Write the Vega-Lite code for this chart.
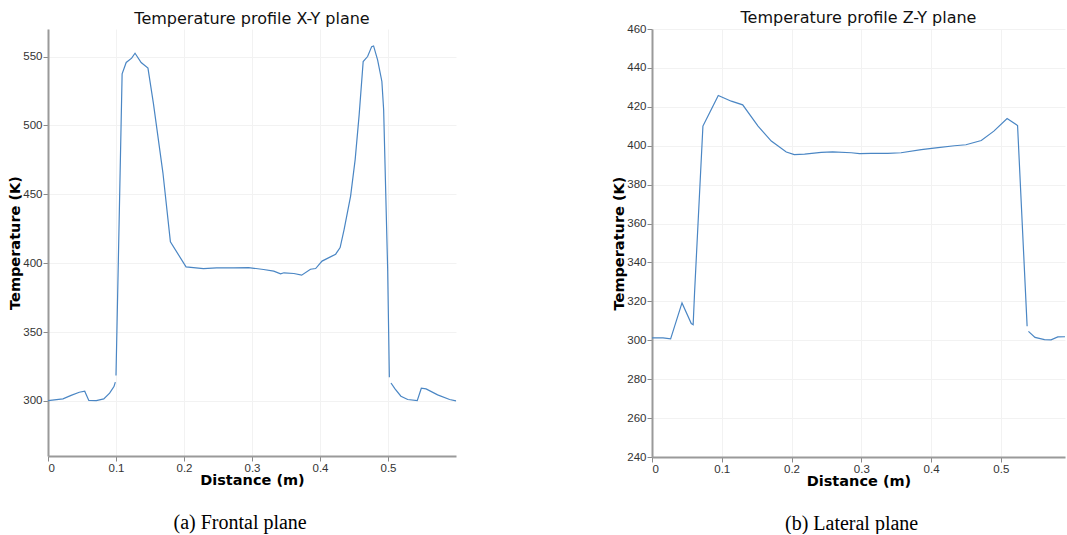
{
  "$schema": "https://vega.github.io/schema/vega-lite/v6.json",
  "padding": {"left": 7, "top": 10, "right": 0, "bottom": 0},
  "datasets": {
    "xy": [
      {"d": 0, "T": 300.2, "seg": "A"},
      {"d": 0.022, "T": 301.5, "seg": "A"},
      {"d": 0.034, "T": 304, "seg": "A"},
      {"d": 0.046, "T": 306.3, "seg": "A"},
      {"d": 0.054, "T": 307, "seg": "A"},
      {"d": 0.06, "T": 300.3, "seg": "A"},
      {"d": 0.071, "T": 300.2, "seg": "A"},
      {"d": 0.082, "T": 301.5, "seg": "A"},
      {"d": 0.0906, "T": 305.6, "seg": "A"},
      {"d": 0.097, "T": 310.4, "seg": "A"},
      {"d": 0.099, "T": 313.6, "seg": "A"},
      {"d": 0.1, "T": 318.4, "seg": "B"},
      {"d": 0.1035, "T": 403, "seg": "B"},
      {"d": 0.109, "T": 537.5, "seg": "B"},
      {"d": 0.115, "T": 545.7, "seg": "B"},
      {"d": 0.123, "T": 548.8, "seg": "B"},
      {"d": 0.128, "T": 552.4, "seg": "B"},
      {"d": 0.137, "T": 545.7, "seg": "B"},
      {"d": 0.147, "T": 541.6, "seg": "B"},
      {"d": 0.155, "T": 516, "seg": "B"},
      {"d": 0.169, "T": 465.6, "seg": "B"},
      {"d": 0.18, "T": 415.5, "seg": "B"},
      {"d": 0.203, "T": 397.3, "seg": "B"},
      {"d": 0.2286, "T": 396.1, "seg": "B"},
      {"d": 0.248, "T": 396.6, "seg": "B"},
      {"d": 0.273, "T": 396.6, "seg": "B"},
      {"d": 0.295, "T": 396.8, "seg": "B"},
      {"d": 0.317, "T": 395.4, "seg": "B"},
      {"d": 0.332, "T": 394.2, "seg": "B"},
      {"d": 0.342, "T": 392.2, "seg": "B"},
      {"d": 0.347, "T": 393, "seg": "B"},
      {"d": 0.3616, "T": 392.5, "seg": "B"},
      {"d": 0.373, "T": 391.3, "seg": "B"},
      {"d": 0.386, "T": 395.6, "seg": "B"},
      {"d": 0.3936, "T": 396.1, "seg": "B"},
      {"d": 0.403, "T": 401.5, "seg": "B"},
      {"d": 0.423, "T": 406.5, "seg": "B"},
      {"d": 0.4296, "T": 411.3, "seg": "B"},
      {"d": 0.4355, "T": 424.6, "seg": "B"},
      {"d": 0.445, "T": 448.7, "seg": "B"},
      {"d": 0.4517, "T": 475.2, "seg": "B"},
      {"d": 0.4576, "T": 507.8, "seg": "B"},
      {"d": 0.4635, "T": 546.4, "seg": "B"},
      {"d": 0.47, "T": 550, "seg": "B"},
      {"d": 0.476, "T": 557.2, "seg": "B"},
      {"d": 0.4788, "T": 557.7, "seg": "B"},
      {"d": 0.4847, "T": 547.6, "seg": "B"},
      {"d": 0.491, "T": 531.9, "seg": "B"},
      {"d": 0.4936, "T": 511.4, "seg": "B"},
      {"d": 0.4995, "T": 395.7, "seg": "B"},
      {"d": 0.502, "T": 317.2, "seg": "B"},
      {"d": 0.5044, "T": 313, "seg": "C"},
      {"d": 0.5103, "T": 308.7, "seg": "C"},
      {"d": 0.519, "T": 303.4, "seg": "C"},
      {"d": 0.529, "T": 301, "seg": "C"},
      {"d": 0.543, "T": 300.2, "seg": "C"},
      {"d": 0.549, "T": 309.2, "seg": "C"},
      {"d": 0.556, "T": 308.7, "seg": "C"},
      {"d": 0.573, "T": 304.4, "seg": "C"},
      {"d": 0.5906, "T": 301, "seg": "C"},
      {"d": 0.6, "T": 300, "seg": "C"}
    ],
    "zy": [
      {"d": 0, "T": 301.2, "seg": "A"},
      {"d": 0.0158, "T": 301.2, "seg": "A"},
      {"d": 0.0267, "T": 300.7, "seg": "A"},
      {"d": 0.043, "T": 319.2, "seg": "A"},
      {"d": 0.0563, "T": 308.6, "seg": "A"},
      {"d": 0.059, "T": 308, "seg": "A"},
      {"d": 0.061, "T": 324.4, "seg": "A"},
      {"d": 0.073, "T": 410.1, "seg": "A"},
      {"d": 0.0826, "T": 416.9, "seg": "A"},
      {"d": 0.095, "T": 425.8, "seg": "A"},
      {"d": 0.1137, "T": 422.9, "seg": "A"},
      {"d": 0.13, "T": 421, "seg": "A"},
      {"d": 0.152, "T": 410.1, "seg": "A"},
      {"d": 0.171, "T": 402.4, "seg": "A"},
      {"d": 0.1925, "T": 396.8, "seg": "A"},
      {"d": 0.204, "T": 395.4, "seg": "A"},
      {"d": 0.2187, "T": 395.7, "seg": "A"},
      {"d": 0.2426, "T": 396.6, "seg": "A"},
      {"d": 0.259, "T": 396.8, "seg": "A"},
      {"d": 0.2856, "T": 396.4, "seg": "A"},
      {"d": 0.2975, "T": 395.9, "seg": "A"},
      {"d": 0.314, "T": 396.1, "seg": "A"},
      {"d": 0.338, "T": 396.1, "seg": "A"},
      {"d": 0.357, "T": 396.4, "seg": "A"},
      {"d": 0.386, "T": 398, "seg": "A"},
      {"d": 0.41, "T": 399, "seg": "A"},
      {"d": 0.4336, "T": 400, "seg": "A"},
      {"d": 0.45, "T": 400.5, "seg": "A"},
      {"d": 0.472, "T": 402.7, "seg": "A"},
      {"d": 0.49, "T": 407.5, "seg": "A"},
      {"d": 0.509, "T": 414, "seg": "A"},
      {"d": 0.524, "T": 410.4, "seg": "A"},
      {"d": 0.5377, "T": 307.2, "seg": "A"},
      {"d": 0.5396, "T": 304.6, "seg": "B"},
      {"d": 0.549, "T": 301.5, "seg": "B"},
      {"d": 0.5626, "T": 300.3, "seg": "B"},
      {"d": 0.572, "T": 300.2, "seg": "B"},
      {"d": 0.5817, "T": 301.7, "seg": "B"},
      {"d": 0.592, "T": 301.8, "seg": "B"}
    ]
  },
  "config": {
    "font": "DejaVu Sans",
    "view": {"stroke": null},
    "axis": {
      "domainColor": "#9a9a9a",
      "domainWidth": 2,
      "tickColor": "#8a8a8a",
      "tickSize": 5,
      "labelColor": "#333333",
      "labelFont": "Liberation Sans",
      "labelFontSize": 11.5,
      "labelPadding": 1,
      "titleFont": "DejaVu Sans",
      "titleFontSize": 14.5,
      "titleFontWeight": "bold",
      "titleColor": "#000000",
      "gridColor": "#f2f2f2",
      "gridWidth": 1
    },
    "axisX": {"titlePadding": 0},
    "axisY": {"titlePadding": 0}
  },
  "spacing": 152,
  "hconcat": [
    {
      "title": {"text": "(a) Frontal plane", "orient": "bottom", "font": "Liberation Serif", "fontSize": 20, "fontWeight": "normal", "color": "#000000", "anchor": "middle", "offset": 26, "dx": 7},
      "vconcat": [
        {
          "width": 408,
          "height": 427,
          "title": {"text": "Temperature profile X-Y plane", "font": "DejaVu Sans", "fontSize": 16, "fontWeight": "normal", "color": "#111111", "frame": "group", "anchor": "middle", "offset": 2.5},
          "data": {"name": "xy"},
          "mark": {"type": "line", "color": "#4a86c4", "strokeWidth": 1.2},
          "encoding": {
            "x": {"field": "d", "type": "quantitative", "scale": {"domain": [0, 0.6], "nice": false, "zero": false}, "axis": {"title": "Distance (m)", "values": [0, 0.1, 0.2, 0.3, 0.4, 0.5], "format": "~g"}},
            "y": {"field": "T", "type": "quantitative", "scale": {"domain": [260, 570], "nice": false, "zero": false}, "axis": {"title": "Temperature (K)", "values": [300, 350, 400, 450, 500, 550]}},
            "detail": {"field": "seg"}
          }
        }
      ]
    },
    {
      "title": {"text": "(b) Lateral plane", "orient": "bottom", "font": "Liberation Serif", "fontSize": 20, "fontWeight": "normal", "color": "#000000", "anchor": "middle", "offset": 26, "dx": 12},
      "vconcat": [
        {
          "width": 413,
          "height": 428,
          "title": {"text": "Temperature profile Z-Y plane", "font": "DejaVu Sans", "fontSize": 16, "fontWeight": "normal", "color": "#111111", "frame": "group", "anchor": "middle", "offset": -3},
          "data": {"name": "zy"},
          "mark": {"type": "line", "color": "#4a86c4", "strokeWidth": 1.2},
          "encoding": {
            "x": {"field": "d", "type": "quantitative", "scale": {"domain": [0, 0.592], "nice": false, "zero": false}, "axis": {"title": "Distance (m)", "values": [0, 0.1, 0.2, 0.3, 0.4, 0.5], "format": "~g"}},
            "y": {"field": "T", "type": "quantitative", "scale": {"domain": [240, 460], "nice": false, "zero": false}, "axis": {"title": "Temperature (K)", "values": [240, 260, 280, 300, 320, 340, 360, 380, 400, 420, 440, 460]}},
            "detail": {"field": "seg"}
          }
        }
      ]
    }
  ]
}
